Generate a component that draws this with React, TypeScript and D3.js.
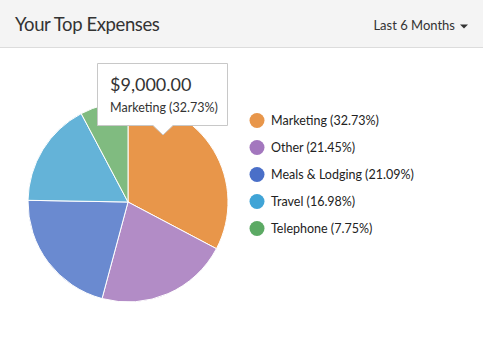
// Top expenses pie — d3 pie/arc with a legend and a hover tooltip
import React, { useEffect, useRef } from 'react';
import * as d3 from 'd3';

const categories = ['Marketing', 'Other', 'Meals & Lodging', 'Travel', 'Telephone'];
const amounts = [9000, 5898, 5800, 4669, 2131];
const sliceColors = ['#e8964a', '#b28cc6', '#6a8ad0', '#64b3d8', '#80bb80'];
const legendColors = ['#e8964a', '#a377be', '#4a6fc8', '#40a4d6', '#5caa64'];
const periodLabel = 'Last 6 Months';
const highlighted = 0;

const W = 483;
const H = 363;
const FONT = 'Lato, "Open Sans", sans-serif';

const App: React.FC = () => {
  const svgRef = useRef<SVGSVGElement>(null);

  useEffect(() => {
    if (!svgRef.current) return;
    const svg = d3.select(svgRef.current);
    svg.selectAll('*').remove();

    const total = d3.sum(amounts);
    const pct = (v: number) => `${((v / total) * 100).toFixed(2)}%`;

    // Шапка
    svg.append('rect').attr('width', W).attr('height', 47).attr('fill', '#f4f4f4');
    svg.append('line')
      .attr('x1', 0).attr('x2', W).attr('y1', 47.5).attr('y2', 47.5)
      .attr('stroke', '#dcdcdc');
    svg.append('text')
      .attr('x', 15).attr('y', 31)
      .attr('font-size', 18.5).attr('fill', '#333')
      .attr('letter-spacing', -0.4)
      .text('Your Top Expenses');
    svg.append('text')
      .attr('x', 455).attr('y', 30)
      .attr('text-anchor', 'end')
      .attr('font-size', 13).attr('fill', '#333')
      .text(periodLabel);
    svg.append('path')
      .attr('d', 'M460,24.5 L468,24.5 L464,28.5 Z')
      .attr('fill', '#333');

    // Пирог
    const cx = 128, cy = 202, r = 100;
    const pie = d3.pie<number>().sort(null).value((d) => d);
    const arc = d3.arc<d3.PieArcDatum<number>>().innerRadius(0).outerRadius(r);
    const g = svg.append('g').attr('transform', `translate(${cx},${cy})`);
    g.selectAll('path')
      .data(pie(amounts))
      .enter()
      .append('path')
      .attr('d', arc)
      .attr('fill', (_, i) => sliceColors[i])
      .attr('stroke', '#fff')
      .attr('stroke-width', 1);

    // Легенда
    const legendY = d3.scaleBand<number>()
      .domain(d3.range(categories.length))
      .range([107, 107 + 27 * categories.length]);
    const lg = svg.append('g');
    const items = lg.selectAll('g')
      .data(categories)
      .enter()
      .append('g')
      .attr('transform', (_, i) => `translate(257,${legendY(i)! + legendY.bandwidth() / 2})`);
    items.append('circle').attr('r', 7.5).attr('fill', (_, i) => legendColors[i]);
    items.append('text')
      .attr('x', 14).attr('dy', '0.36em')
      .attr('font-size', 12.5).attr('fill', '#222')
      .text((d, i) => `${d} (${pct(amounts[i])})`);

    // Подсказка
    const tx = 97, ty = 63, tw = 131, th = 63;
    const px = 163;
    const tip = svg.append('g');
    tip.append('path')
      .attr('d', `M${tx + 0.5},${ty + 0.5} H${tx + tw - 0.5} V${ty + th - 0.5} H${px + 10} L${px},${ty + th + 9} L${px - 10},${ty + th - 0.5} H${tx + 0.5} Z`)
      .attr('fill', '#fff')
      .attr('stroke', '#c8c8c8');
    tip.append('text')
      .attr('x', tx + 13).attr('y', ty + 28)
      .attr('font-size', 18).attr('fill', '#333')
      .text(d3.format('$,.2f')(amounts[highlighted]));
    tip.append('text')
      .attr('x', tx + 13).attr('y', ty + 49)
      .attr('font-size', 12.5).attr('fill', '#333')
      .text(`${categories[highlighted]} (${pct(amounts[highlighted])})`);
  }, []);

  return (
    <svg
      ref={svgRef}
      width={W}
      height={H}
      style={{ position: 'absolute', left: 0, top: 0, background: '#fff', fontFamily: FONT }}
    />
  );
};

export default App;
